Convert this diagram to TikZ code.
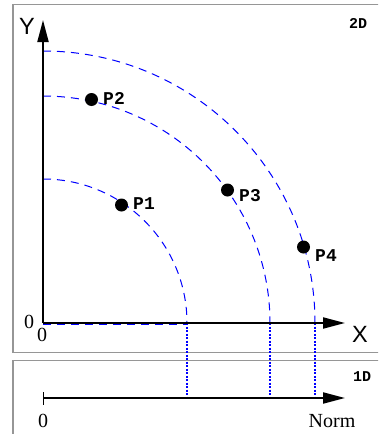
\documentclass[tikz,border=0pt]{standalone}
\usepackage{fontspec}
\setmainfont{Liberation Serif}
\newfontfamily\axisfont{Liberation Sans}
\newfontfamily\codefont{Liberation Mono}
\usetikzlibrary{arrows.meta}
\definecolor{framegray}{RGB}{150,150,150}
\tikzset{
  framebox/.style={draw=framegray,line width=1.5pt},
  axisline/.style={draw=black,line width=2pt,-{Triangle[length=22pt,width=11pt]}},
  arcline/.style={draw=blue,line width=1pt,dash pattern=on 8pt off 6pt},
  guideline/.style={draw=blue,line width=1.1pt,dash pattern=on 2pt off 1.5pt},
  pt/.style={circle,fill=black,inner sep=0pt,minimum size=13pt},
  ptlabel/.style={font=\codefont\bfseries\fontsize{18}{18}\selectfont,anchor=west,inner sep=0pt},
  dimlabel/.style={font=\codefont\bfseries\fontsize{15}{15}\selectfont,inner sep=0pt},
  axislabel/.style={font=\axisfont\fontsize{23.5}{23.5}\selectfont,inner sep=0pt},
  numlabel/.style={font=\fontsize{20}{20}\selectfont,inner sep=0pt}
}
\begin{document}
\begin{tikzpicture}[x=1pt,y=-1pt]
\useasboundingbox (0,0) rectangle (378,434);
\clip (0,0) rectangle (378,434);
% frames
\draw[framebox] (392,4.5) -- (13,4.5) -- (13,352.5) -- (392,352.5);
\draw[framebox] (392,360.5) -- (13,360.5) -- (13,440);
% key coordinates
\coordinate (O) at (43,323);
\coordinate (Ytip) at (43,20);
\coordinate (Xtip) at (345,323);
\coordinate (N0) at (43,398);
\coordinate (Ntip) at (345,398);
% dashed blue along x-axis
\draw[arcline] (43,324.5) -- (187,324.5);
% arcs
\draw[arcline] (O) ++(0,-144) arc[start angle=-90,end angle=0,radius=144] coordinate (e1);
\draw[arcline] (O) ++(0,-227) arc[start angle=-90,end angle=0,radius=227] coordinate (e2);
\draw[arcline] (O) ++(0,-272) arc[start angle=-90,end angle=0,radius=272] coordinate (e3);
% guides to 1D axis
\draw[guideline] (e1) -- (e1 |- N0);
\draw[guideline] (e2) -- (e2 |- N0);
\draw[guideline] (e3) -- (e3 |- N0);
% axes
\draw[axisline] (O) -- (Ytip);
\draw[axisline] (O) -- (Xtip);
\draw[axisline] (N0) -- (Ntip);
\draw[line width=1pt] (43,392) -- (43,405);
% axis labels
\node[axislabel] (ylab) at (27,26) {Y};
\node[axislabel] (xlab) at (360,334) {X};
\node[numlabel] (zl) at (29,322) {0};
\node[numlabel] (zb) at (42,335) {0};
\node[numlabel] (z1) at (43,421) {0};
\node[numlabel] (norm) at (332,421) {Norm};
\node[dimlabel] (twod) at (358,23) {2D};
\node[dimlabel] (oned) at (362,377) {1D};
% points
\node[pt] (p1) at (121.5,205) {};
\node[pt] (p2) at (91.5,99.5) {};
\node[pt] (p3) at (227.5,190) {};
\node[pt] (p4) at (303.5,247) {};
\node[ptlabel] (l1) at (133,204) {P1};
\node[ptlabel] (l2) at (103,98) {P2};
\node[ptlabel] (l3) at (239,196) {P3};
\node[ptlabel] (l4) at (315,256) {P4};
\end{tikzpicture}
\end{document}
